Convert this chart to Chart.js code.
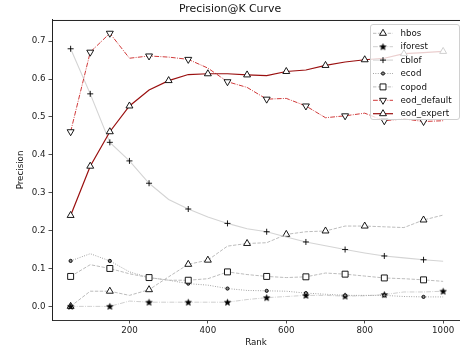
<!DOCTYPE html>
<html lang="en">
<head>
  <meta charset="UTF-8">
  <title>Precision@K Curve</title>
  <script src="https://cdn.jsdelivr.net/npm/chart.js@4"></script>
  <style>
    html, body { margin: 0; padding: 0; background: #fff; overflow: hidden; }
  </style>
</head>
<body>
  <canvas id="precisionChart" width="460" height="351"></canvas>

  <script>
  // Rank cut-offs (K) and precision of each detector at that K
  const ranks = [50, 100, 150, 200, 250, 300, 350, 400, 450, 500, 550, 600, 650, 700, 750, 800, 850, 900, 950, 1000];
  const hbos = [0.0, 0.04, 0.04, 0.029, 0.044, 0.078, 0.111, 0.122, 0.159, 0.166, 0.168, 0.19, 0.197, 0.199, 0.212, 0.212, 0.21, 0.208, 0.228, 0.241];
  const iforest = [0.0, 0.0, 0.0, 0.014, 0.011, 0.011, 0.011, 0.011, 0.011, 0.018, 0.023, 0.026, 0.029, 0.029, 0.027, 0.028, 0.031, 0.038, 0.038, 0.04];
  const cblof = [0.68, 0.561, 0.433, 0.384, 0.325, 0.282, 0.257, 0.236, 0.219, 0.205, 0.197, 0.183, 0.17, 0.16, 0.15, 0.141, 0.133, 0.128, 0.123, 0.119];
  const ecod = [0.12, 0.139, 0.12, 0.091, 0.076, 0.069, 0.06, 0.056, 0.047, 0.042, 0.041, 0.04, 0.035, 0.032, 0.029, 0.029, 0.029, 0.026, 0.025, 0.025];
  const copod = [0.079, 0.11, 0.1, 0.086, 0.076, 0.069, 0.069, 0.073, 0.091, 0.084, 0.079, 0.076, 0.078, 0.088, 0.085, 0.08, 0.075, 0.073, 0.07, 0.066];
  const eodDefault = [0.461, 0.671, 0.721, 0.655, 0.661, 0.658, 0.652, 0.629, 0.593, 0.578, 0.547, 0.549, 0.529, 0.498, 0.503, 0.51, 0.49, 0.495, 0.488, 0.49];
  const eodExpert = [0.24, 0.37, 0.461, 0.529, 0.571, 0.596, 0.612, 0.614, 0.614, 0.611, 0.609, 0.62, 0.624, 0.636, 0.645, 0.651, 0.655, 0.667, 0.67, 0.673];

  const xTicks = [200, 400, 600, 800, 1000];
  const yTicks = [0, 0.1, 0.2, 0.3, 0.4, 0.5, 0.6, 0.7];

  const FONT = '"DejaVu Sans", "Liberation Sans", sans-serif';

  // filled star marker (Chart.js "star" is only an asterisk)
  function starMarker(r) {
    const s = Math.ceil(r * 2 + 2);
    const c = document.createElement('canvas');
    c.width = s; c.height = s;
    const g = c.getContext('2d');
    g.translate(s / 2, s / 2 + 0.3);
    g.beginPath();
    for (let i = 0; i < 10; i++) {
      const rr = i % 2 ? r * 0.45 : r;
      const a = -Math.PI / 2 + i * Math.PI / 5;
      g.lineTo(rr * Math.cos(a), rr * Math.sin(a));
    }
    g.closePath();
    g.fillStyle = '#000';
    g.fill();
    g.lineWidth = 0.7;
    g.strokeStyle = '#000';
    g.stroke();
    return c;
  }

  // line / marker style per detector; marks = ranks that carry a marker
  const series = [
    { label: 'hbos', values: hbos, color: '#bcbcbc', width: 1, dash: [3.4, 1.5],
      marker: 'triangle', rot: 0, r: 4, face: '#fff', marks: [50, 150, 250, 350, 400, 500, 600, 700, 800, 950] },
    { label: 'iforest', values: iforest, color: '#cfcfcf', width: 1, dash: [4.8, 1.3, 0.9, 1.3],
      marker: starMarker(3.2), rot: 0, r: 3, face: '#000', marks: [50, 150, 250, 350, 450, 550, 650, 750, 850, 1000] },
    { label: 'cblof', values: cblof, color: '#d4d4d4', width: 1.1, dash: [],
      marker: 'cross', rot: 0, r: 3, face: '#000', marks: [50, 100, 150, 200, 250, 350, 450, 550, 650, 750, 850, 950] },
    { label: 'ecod', values: ecod, color: '#9a9a9a', width: 1, dash: [0.9, 1.5],
      marker: 'circle', rot: 0, r: 1.6, face: '#888', marks: [50, 150, 250, 350, 450, 550, 650, 750, 850, 950] },
    { label: 'copod', values: copod, color: '#bcbcbc', width: 1, dash: [3.4, 1.5],
      marker: 'rect', rot: 0, r: 4.2, face: '#fff', marks: [50, 150, 250, 350, 450, 550, 650, 750, 850, 950] },
    { label: 'eod_default', values: eodDefault, color: '#d03a3a', width: 1, dash: [4.8, 1.3, 0.9, 1.3],
      marker: 'triangle', rot: 180, r: 4, face: '#fff', marks: [50, 100, 150, 250, 350, 450, 550, 650, 750, 850, 950] },
    { label: 'eod_expert', values: eodExpert, color: '#9a0f0f', width: 1.2, dash: [],
      marker: 'triangle', rot: 0, r: 4, face: '#fff', marks: [50, 100, 150, 200, 300, 400, 500, 600, 700, 800, 900, 1000] }
  ];

  const datasets = series.map((s, i) => ({
    label: s.label,
    data: ranks.map((k, j) => ({ x: k, y: s.values[j] })),
    borderColor: s.color,
    borderWidth: s.width,
    borderDash: s.dash,
    pointStyle: s.marker,
    pointRotation: s.rot,
    pointRadius: ranks.map(k => s.marks.includes(k) ? s.r : 0),
    pointBackgroundColor: s.face,
    pointBorderColor: '#000',
    pointBorderWidth: 0.9,
    markerRadius: s.r,
    tension: 0,
    fill: false,
    order: series.length - 1 - i
  }));

  // top spine + boxed legend inside the axes, like the matplotlib original
  const frameAndLegend = {
    id: 'frameAndLegend',
    afterDraw(chart) {
      const ctx = chart.ctx;
      const area = chart.chartArea;
      ctx.save();
      ctx.strokeStyle = '#222';
      ctx.lineWidth = 1;
      ctx.beginPath();
      ctx.moveTo(area.left, area.top + 0.5);
      ctx.lineTo(area.right, area.top + 0.5);
      ctx.stroke();

      const bx = 370.5, by = 24.5, bw = 89, bh = 95, rad = 2.5;
      ctx.beginPath();
      ctx.moveTo(bx + rad, by);
      ctx.arcTo(bx + bw, by, bx + bw, by + bh, rad);
      ctx.arcTo(bx + bw, by + bh, bx, by + bh, rad);
      ctx.arcTo(bx, by + bh, bx, by, rad);
      ctx.arcTo(bx, by, bx + bw, by, rad);
      ctx.closePath();
      ctx.fillStyle = 'rgba(255,255,255,0.8)';
      ctx.fill();
      ctx.strokeStyle = '#d0d0d0';
      ctx.lineWidth = 1;
      ctx.stroke();

      chart.data.datasets.forEach((ds, i) => {
        const y = 33.3 + i * 13.4;
        ctx.strokeStyle = ds.borderColor;
        ctx.lineWidth = ds.borderWidth;
        ctx.setLineDash(ds.borderDash);
        ctx.beginPath();
        ctx.moveTo(373, y);
        ctx.lineTo(393, y);
        ctx.stroke();
        ctx.setLineDash([]);

        ctx.fillStyle = ds.pointBackgroundColor;
        ctx.strokeStyle = ds.pointBorderColor;
        ctx.lineWidth = ds.pointBorderWidth;
        Chart.helpers.drawPoint(ctx, {
          pointStyle: ds.pointStyle,
          rotation: ds.pointRotation,
          radius: ds.markerRadius,
          borderWidth: ds.pointBorderWidth
        }, 383, y);

        ctx.fillStyle = '#111';
        ctx.font = '8.7px ' + FONT;
        ctx.textBaseline = 'middle';
        ctx.textAlign = 'left';
        ctx.fillText(ds.label, 400.5, y + 0.5);
      });
      ctx.restore();
    }
  };

  const tickFont = { family: FONT, size: 8.7 };

  new Chart(document.getElementById('precisionChart'), {
    type: 'line',
    data: { datasets },
    options: {
      responsive: false,
      animation: false,
      devicePixelRatio: 1,
      layout: { padding: 0, autoPadding: false },
      plugins: {
        legend: { display: false },
        tooltip: { enabled: false },
        title: {
          display: true,
          text: 'Precision@K Curve',
          color: '#111',
          font: { family: FONT, size: 10.9, weight: 'normal' },
          padding: { top: 2.5, bottom: 4.4 }
        }
      },
      scales: {
        x: {
          type: 'linear',
          min: 2.5,
          max: 1043,
          afterFit: s => { s.height = 31; s.paddingLeft = 0; s.paddingRight = 0; },
          afterBuildTicks: s => { s.ticks = xTicks.map(v => ({ value: v })); },
          grid: { drawOnChartArea: false, drawTicks: true, tickLength: 3.5, color: '#222', lineWidth: 0.8 },
          border: { display: true, color: '#333', width: 1 },
          ticks: { color: '#222', font: tickFont, padding: 2, maxRotation: 0, callback: v => String(v) },
          title: { display: true, text: 'Rank', color: '#111', font: tickFont, padding: { top: 0, bottom: 3 } }
        },
        y: {
          min: -0.036,
          max: 0.756,
          afterFit: s => { s.width = 52; s.paddingTop = 0; s.paddingBottom = 0; },
          afterBuildTicks: s => { s.ticks = yTicks.map(v => ({ value: v })); },
          grid: { drawOnChartArea: false, drawTicks: true, tickLength: 3.5, color: '#222', lineWidth: 0.8 },
          border: { display: true, color: '#222', width: 1 },
          ticks: { color: '#222', font: tickFont, padding: 3, callback: v => v.toFixed(1) },
          title: { display: true, text: 'Precision', color: '#111', font: tickFont, padding: { top: 16, bottom: 0 } }
        }
      }
    },
    plugins: [frameAndLegend]
  });
  </script>
</body>
</html>
